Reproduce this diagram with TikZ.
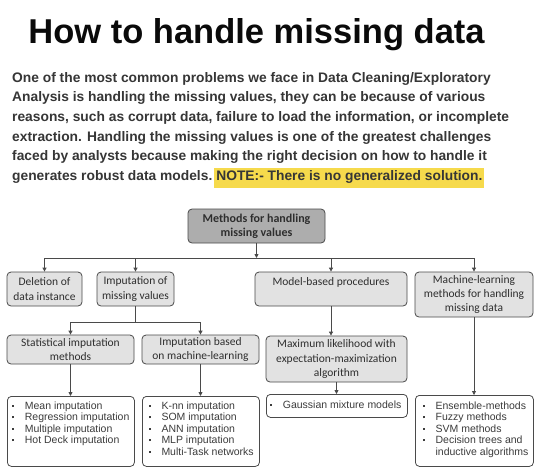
\documentclass[tikz,border=0pt]{standalone}
\usepackage{fontspec}
\setmainfont{Liberation Sans}
\newfontfamily\boxfont{Carlito}
\usepackage{xcolor}
\usetikzlibrary{positioning, arrows.meta, calc}
\definecolor{titleblack}{HTML}{0A0A0A}
\definecolor{paratext}{HTML}{363636}
\definecolor{noteyellow}{HTML}{F6DA4C}
\definecolor{rootgray}{HTML}{ADADAD}
\definecolor{boxgray}{HTML}{E2E2E2}
\definecolor{edgegray}{HTML}{4A4A4A}
\definecolor{boxtext}{HTML}{2E2E2E}
\definecolor{listtext}{HTML}{3C3C3C}
\newcommand\hlnote[1]{{\setlength\fboxsep{2pt}\colorbox{noteyellow}{\rule[-6pt]{0pt}{14pt}#1}}}
\newcommand\bul{\makebox[12.5pt][l]{\raisebox{2.6pt}{\rule{1.9pt}{1.9pt}}}}
\newcommand\blist[4]{\parbox[c][#3][t]{#2}{\raggedright\leftskip=#1\relax #4}}

\begin{document}
\begin{tikzpicture}[x=1pt, y=-1pt,
  box/.style={draw=edgegray, line width=0.8pt, rounded corners=4pt, fill=boxgray, text=boxtext,
    inner sep=0pt, align=center, font=\boxfont\fontsize{11.5}{14.3}\selectfont},
  listbox/.style={draw=edgegray, line width=0.8pt, rounded corners=4pt, fill=white, text=listtext,
    inner xsep=2pt, inner ysep=5.5pt, anchor=north west, font=\fontsize{10.5}{11.4}\selectfont},
  link/.style={draw=edgegray, line width=0.8pt},
  arr/.style={link, -{Triangle[length=4pt, width=4pt]}}]
  \path[fill=white] (0,0) rectangle (541,475);
  \useasboundingbox (0,0) rectangle (541,475);

  \node[anchor=base, inner sep=0pt, text=titleblack, font=\bfseries\fontsize{34.5}{40}\selectfont] (title) at (256.5,43)
    {How to handle missing data};
  \node[anchor=north west, inner sep=0pt, align=left, text=paratext, font=\bfseries\fontsize{13.8}{19.6}\selectfont] (intro) at (12,72)
    {One of the most common problems we face in Data Cleaning/Exploratory\\
     Analysis is handling the missing values, they can be because of various\\
     reasons, such as corrupt data, failure to load the information, or incomplete\\
     extraction. Handling the missing values is one of the greatest challenges\\
     faced by analysts because making the right decision on how to handle it\\
     generates robust data models.\hspace{2pt}\hlnote{NOTE:- There is no generalized solution.}};

  \node[box, fill=rootgray, font=\boxfont\bfseries\fontsize{12}{14.3}\selectfont, minimum width=137pt, minimum height=34pt] (root) at (256.5,226)
    {Methods for handling\\missing values};
  \node[box, minimum width=75pt, minimum height=34pt] (del) at (44.5,289) {Deletion of\\data instance};
  \node[box, minimum width=77pt, minimum height=34pt] (imp) at (135.5,289) {Imputation of\\missing values};
  \node[box, minimum width=152pt, minimum height=34pt] (model) at (331,289) {Model-based procedures\\\mbox{}};
  \node[box, minimum width=118pt, minimum height=45pt] (mlm) at (474,294.5)
    {Machine-learning\\methods for handling\\missing data};
  \node[box, minimum width=127pt, minimum height=29pt] (stat) at (70.5,349.5) {Statistical imputation\\methods};
  \node[box, minimum width=117pt, minimum height=29pt] (impml) at (200.5,349.5) {Imputation based\\on machine-learning};
  \node[box, minimum width=141pt, minimum height=46pt] (maxl) at (336.5,359)
    {Maximum likelihood with\\expectation-maximization\\algorithm};

  \node[listbox] (meanl) at (7,396) {\blist{3pt}{123pt}{59pt}{\bul Mean imputation\\
    \bul Regression imputation\\ \bul Multiple imputation\\ \bul Hot Deck imputation}};
  \node[listbox] (knnl) at (142,396) {\blist{4.6pt}{113pt}{59pt}{\bul K-nn imputation\\
    \bul SOM imputation\\ \bul ANN imputation\\ \bul MLP imputation\\ \bul Multi-Task networks}};
  \node[listbox, inner ysep=6.5pt] (gmm) at (266,394) {\blist{2pt}{137pt}{10pt}{\bul Gaussian mixture models}};
  \node[listbox, inner ysep=6.5pt] (ensl) at (415,395) {\blist{5.7pt}{114pt}{58pt}{\bul Ensemble-methods\\
    \bul Fuzzy methods\\ \bul SVM methods\\ \bul Decision trees and\\ \hspace*{12.5pt}inductive algorithms}};

  \coordinate (bus1) at (0,258);
  \coordinate (bus2) at (0,322);
  \draw[arr] (root) -- (root |- bus1);
  \draw[link] (del |- bus1) -- (mlm |- bus1);
  \foreach \n in {del,imp,model,mlm}
    \draw[arr] (\n |- bus1) -- (\n);
  \draw[link] (imp) -- (imp |- bus2);
  \draw[link] (stat |- bus2) -- (impml |- bus2);
  \foreach \n in {stat,impml}
    \draw[arr] (\n |- bus2) -- (\n);
  \draw[arr] (stat) -- (meanl.north -| stat);
  \draw[arr] (impml) -- (knnl.north -| impml);
  \draw[arr] (model.south) -- (model.south |- maxl.north);
  \draw[arr] (maxl) -- (gmm.north -| maxl);
  \draw[arr] (mlm) -- (ensl.north -| mlm);
\end{tikzpicture}
\end{document}
